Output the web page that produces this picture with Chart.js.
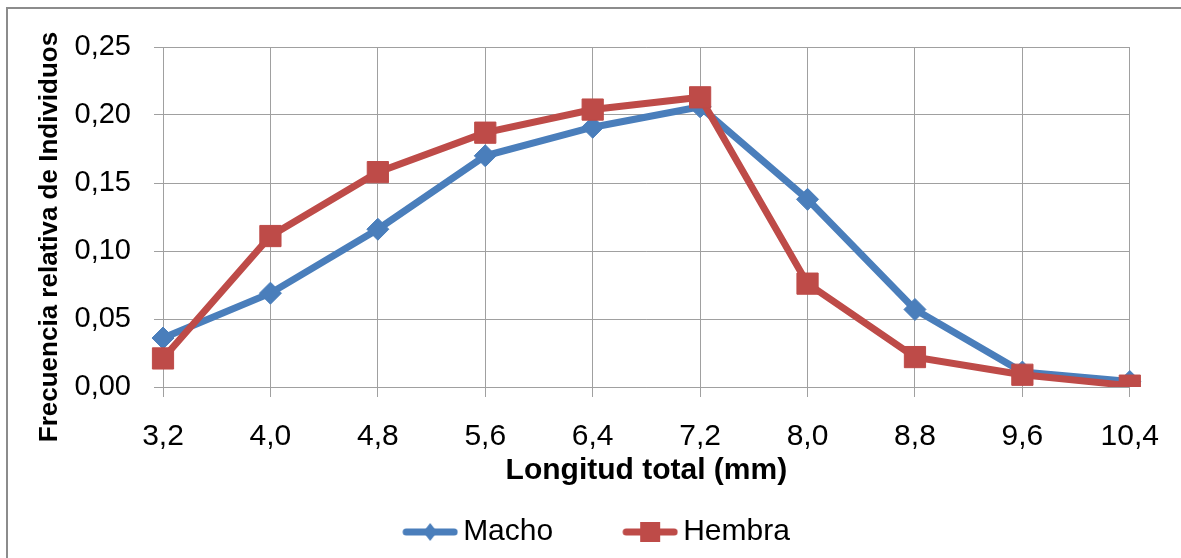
<!DOCTYPE html>
<html>
<head>
<meta charset="utf-8">
<script src="https://cdn.jsdelivr.net/npm/chart.js@4/dist/chart.umd.min.js"></script>
<style>
  html, body { margin: 0; padding: 0; background: #fff; }
  #wrap { position: relative; width: 1181px; height: 558px; overflow: hidden; }
  #frame { position: absolute; left: 6px; top: 7px; width: 1300px; height: 700px;
           border-left: 2px solid #8c8c8c; border-top: 2px solid #8c8c8c; pointer-events: none; }
  canvas { position: absolute; left: 0; top: 0; }
</style>
</head>
<body>
<div id="wrap">
  <canvas id="chart" width="1181" height="558"></canvas>
  <div id="frame"></div>
</div>
<script>
"use strict";

// longitud total (mm) y frecuencia relativa por sexo
var lengths = ["3,2", "4,0", "4,8", "5,6", "6,4", "7,2", "8,0", "8,8", "9,6", "10,4"];
var macho = [0.036, 0.069, 0.116, 0.170, 0.191, 0.206, 0.138, 0.057, 0.011, 0.004];
var hembra = [0.021, 0.111, 0.158, 0.187, 0.204, 0.213, 0.076, 0.022, 0.009, 0.001];

var BLUE = "#4a7ebb";
var RED = "#be4b48";
var GRID = "#a0a0a0";
var FONT = "'Liberation Sans', Arial, sans-serif";

function $(id) { return document.getElementById(id); }

// legend swatch: short thick line with the series marker in the middle
function legendIcon(color, shape) {
  var c = document.createElement("canvas");
  c.width = 125; c.height = 30;
  var g = c.getContext("2d");
  var x0 = 69, x1 = 125, cy = 15, mx = (x0 + x1) / 2;
  g.strokeStyle = color;
  g.lineWidth = 7;
  g.lineCap = "round";
  g.beginPath(); g.moveTo(x0 + 4, cy); g.lineTo(x1 - 4, cy); g.stroke();
  g.fillStyle = color;
  if (shape === "diamond") {
    g.beginPath();
    g.moveTo(mx, cy - 9); g.lineTo(mx + 7, cy); g.lineTo(mx, cy + 9); g.lineTo(mx - 7, cy);
    g.closePath(); g.fill();
  } else {
    g.fillRect(mx - 10, cy - 10, 20, 20);
  }
  return c;
}

var icons = [legendIcon(BLUE, "diamond"), legendIcon(RED, "square")];

// rotated y title, drawn beside the axis
var yTitle = {
  id: "yTitle",
  afterDraw: function (chart) {
    var ctx = chart.ctx;
    ctx.save();
    ctx.translate(50, 237);
    ctx.rotate(-Math.PI / 2);
    ctx.font = "bold 26px " + FONT;
    ctx.fillStyle = "#000";
    ctx.textAlign = "center";
    ctx.textBaseline = "middle";
    ctx.fillText("Frecuencia relativa de Individuos", 0, 0);
    ctx.restore();
  }
};

new Chart($("chart"), {
  type: "line",
  data: {
    labels: lengths,
    datasets: [{
      label: "Macho",
      data: macho,
      order: 1,
      borderColor: BLUE,
      backgroundColor: BLUE,
      borderWidth: 7,
      tension: 0,
      pointStyle: "rectRot",
      pointRadius: 11,
      pointBorderWidth: 1,
      pointBackgroundColor: BLUE,
      pointBorderColor: BLUE,
    }, {
      label: "Hembra",
      data: hembra,
      order: 0,
      borderColor: RED,
      backgroundColor: RED,
      borderWidth: 7,
      tension: 0,
      pointStyle: "rect",
      pointRadius: 15,
      pointBorderWidth: 1,
      pointBackgroundColor: RED,
      pointBorderColor: RED,
    }],
  },
  options: {
    responsive: false,
    animation: false,
    layout: { padding: { top: 47, left: 1, right: 49, bottom: 1 } },
    scales: {
      x: {
        afterFit: function (s) { s.height = 120; },
        grid: { color: GRID, lineWidth: 1, tickLength: 10, tickColor: GRID },
        border: { color: GRID },
        ticks: { color: "#000", padding: 22, maxRotation: 0, autoSkip: false,
                 font: { family: FONT, size: 30 } },
        title: { display: true, text: "Longitud total (mm)", color: "#000",
                 padding: { top: 0, bottom: 18 },
                 font: { family: FONT, size: 30, weight: "bold" } },
      },
      y: {
        min: 0, max: 0.25,
        afterFit: function (s) { s.width = 162; },
        grid: { color: GRID, lineWidth: 1, tickLength: 9, tickColor: GRID },
        border: { color: GRID },
        ticks: {
          stepSize: 0.05, color: "#000", padding: 23,
          font: { family: FONT, size: 29 },
          callback: function (v) { return v.toFixed(2).replace(".", ","); },
        },
      },
    },
    plugins: {
      tooltip: { enabled: false },
      legend: {
        position: "bottom",
        labels: {
          usePointStyle: true,
          pointStyleWidth: 105,
          padding: 10,
          color: "#000",
          font: { family: FONT, size: 30 },
          sort: function (a, b) { return a.datasetIndex - b.datasetIndex; },
          generateLabels: function (chart) {
            return chart.data.datasets.map(function (ds, i) {
              return {
                text: ds.label,
                datasetIndex: i,
                pointStyle: icons[i],
                fillStyle: ds.borderColor,
                strokeStyle: ds.borderColor,
                lineWidth: 0,
                hidden: false,
                fontColor: "#000",
              };
            });
          },
        },
      },
    },
  },
  plugins: [yTitle],
});
</script>
</body>
</html>
